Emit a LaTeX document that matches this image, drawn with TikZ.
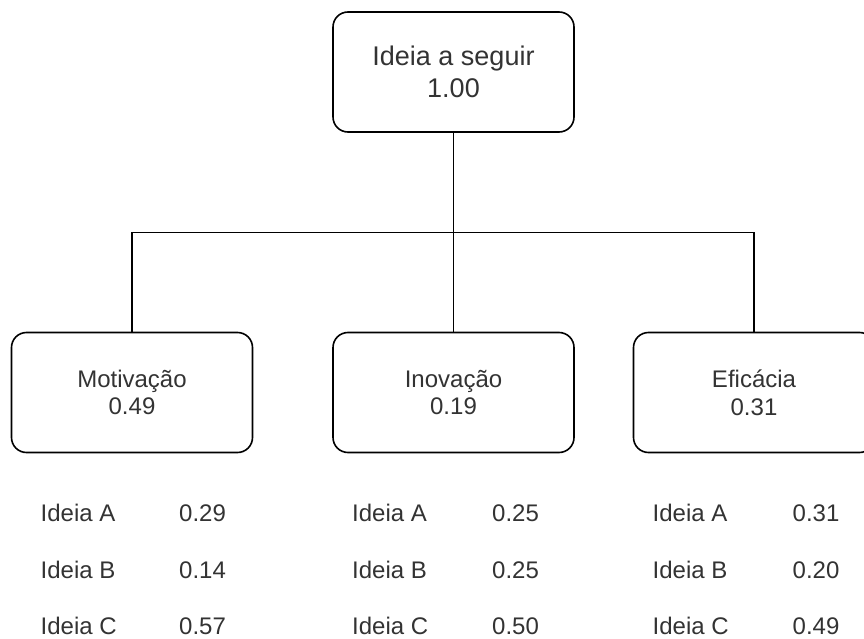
\documentclass[tikz,border=0pt]{standalone}
\usepackage{fontspec}
\setmainfont{Liberation Sans}
\definecolor{txt}{HTML}{333333}
\begin{document}
\begin{tikzpicture}[x=1pt,y=-1pt,
  box/.style={draw=black,line width=1.6pt,rounded corners=15pt,fill=white,
    minimum width=241pt,minimum height=120pt,inner sep=0pt,align=center,
    text=txt,font=\fontsize{24}{27.7}\selectfont},
  topbox/.style={box,font=\fontsize{27}{31.7}\selectfont},
  cell/.style={inner sep=0pt,anchor=base west,text=txt,font=\fontsize{24}{28}\selectfont},
  link/.style={draw=black,line width=1.6pt}]
\clip (0,0) rectangle (864,639);
\fill[white] (0,0) rectangle (864,639);
\node[topbox] (top) at (453.5,72) {Ideia a seguir\\1.00};
\node[box] (mot) at (132,392.5) {Motivação\\0.49};
\node[box] (ino) at (453.5,392.5) {Inovação\\0.19};
\node[box] (efi) at (754,392.5) {Eficácia\\0.31};
\coordinate (j) at (453.5,232.5);
\draw[link] (top.south) -- (j);
\draw[link] (j) -| (mot.north);
\draw[link] (j) -- (ino.north);
\draw[link] (j) -| (efi.north);
% table rows
\foreach \n/\lx/\vx/\a/\b/\c in {m/40.5/179/0.29/0.14/0.57, i/352/492/0.25/0.25/0.50, e/652.5/792.5/0.31/0.20/0.49}{
  \node[cell] (\n A) at (\lx,521.8) {Ideia A};
  \node[cell] (\n Av) at (\vx,521.8) {\a};
  \node[cell] (\n B) at (\lx,578.2) {Ideia B};
  \node[cell] (\n Bv) at (\vx,578.2) {\b};
  \node[cell] (\n C) at (\lx,634.4) {Ideia C};
  \node[cell] (\n Cv) at (\vx,634.4) {\c};
}
\end{tikzpicture}
\end{document}
